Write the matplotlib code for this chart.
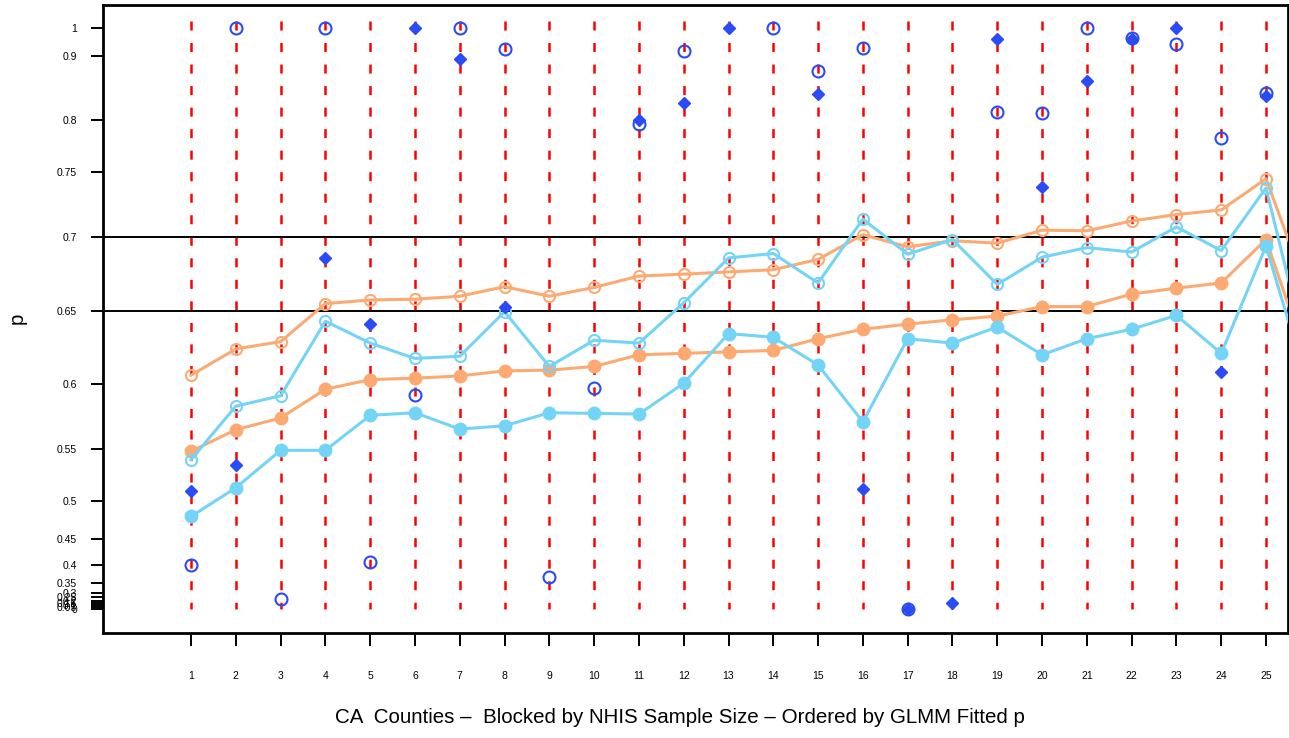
import numpy as np
import matplotlib
matplotlib.use("Agg")
import matplotlib.pyplot as plt

plt.rcParams['font.family'] = ['Liberation Sans', 'DejaVu Sans']
plt.rcParams['lines.scale_dashes'] = False

# counties 1..25, the 26th point lies just past the right edge of the frame
county = list(range(1, 27))

orange_open = [0.606, 0.624, 0.629, 0.655, 0.6575, 0.658, 0.660, 0.6665, 0.660, 0.666,
               0.6737, 0.675, 0.6765, 0.678, 0.685, 0.702, 0.6935, 0.6977, 0.696, 0.7055,
               0.705, 0.7125, 0.7175, 0.721, 0.745, 0.657]
orange_fill = [0.548, 0.565, 0.574, 0.596, 0.603, 0.604, 0.6055, 0.609, 0.6095, 0.612,
               0.620, 0.621, 0.622, 0.623, 0.631, 0.6375, 0.641, 0.644, 0.6465, 0.653,
               0.653, 0.6615, 0.6655, 0.669, 0.6985, 0.609]
cyan_open = [0.540, 0.583, 0.591, 0.643, 0.628, 0.6175, 0.619, 0.6495, 0.612, 0.630,
             0.628, 0.6555, 0.686, 0.689, 0.669, 0.714, 0.6885, 0.6985, 0.668, 0.6865,
             0.693, 0.690, 0.708, 0.691, 0.738, 0.609]
cyan_fill = [0.480, 0.513, 0.549, 0.549, 0.576, 0.578, 0.5655, 0.568, 0.578, 0.5775,
             0.577, 0.6005, 0.6345, 0.632, 0.613, 0.571, 0.631, 0.628, 0.639, 0.620,
             0.631, 0.6375, 0.647, 0.621, 0.694, 0.591]

nan = np.nan
blue_open = [0.40, 1.0, 0.224, 1.0, 0.406, 0.5915, 1.0, 0.926, 0.367, 0.597,
             0.796, 0.919, nan, 1.0, 0.877, 0.9285, 0.0, nan, 0.8125, 0.810,
             1.0, 0.964, 0.944, 0.783, 0.8415]
blue_diam = [0.510, 0.535, nan, 0.686, 0.641, 1.0, 0.895, 0.653, nan, nan,
             0.800, 0.827, 1.0, nan, 0.8405, 0.512, 0.0, 0.154, 0.96, 0.739,
             0.861, 0.962, 1.0, 0.608, 0.8375]

yticks = [0, 0.05, 0.1, 0.15, 0.2, 0.25, 0.3, 0.35, 0.4, 0.45, 0.5, 0.55, 0.6,
          0.65, 0.7, 0.75, 0.8, 0.9, 1]
ylabels = ['0', '0.05', '0.1', '0.15', '0.2', '0.25', '0.3', '0.35', '0.4', '0.45',
           '0.5', '0.55', '0.6', '0.65', '0.7', '0.75', '0.8', '0.9', '1']

# calibration of the stretched p axis (p value -> relative position)
scale_p = np.array([-1, 0, 0.05, 0.1, 0.15, 0.2, 0.25, 0.3, 0.35, 0.4, 0.45, 0.5,
                    0.55, 0.6, 0.65, 0.7, 0.75, 0.8, 0.9, 1.0, 2.0])
scale_pos = -np.array([649.5, 609.5, 607.5, 605.5, 603.5, 601, 597.5, 593, 582.7,
                       565.3, 539.3, 501.3, 449.3, 384, 311, 237.3, 172.3, 119.7,
                       56.3, 28.3, -251.7])


def fwd(p):
    return np.interp(p, scale_p, scale_pos)


def inv(v):
    return np.interp(v, scale_pos, scale_p)


fig = plt.figure(figsize=(12.89, 7.38), dpi=100)
ax = fig.add_axes([103 / 1289, 1 - 633 / 738, 1184.5 / 1289, 628 / 738])
ax.set_yscale('function', functions=(fwd, inv))

red = '#FF0000'
orange = '#FCAA72'
cyan = '#74D4F6'
blue = '#2A4BF5'

x25 = county[:25]
ax.vlines(x25, 1.027, 0, colors=red, linewidth=1.8, linestyles=(0, (6.5, 9)), zorder=1)
ax.axhline(0.65, color='black', linewidth=1.4, zorder=2)
ax.axhline(0.7, color='black', linewidth=1.4, zorder=2)

ax.plot(county, orange_open, color=orange, lw=2.2, marker='o', ms=8, mfc='none',
        mew=1.5, zorder=3)
ax.plot(county, orange_fill, color=orange, lw=2.2, marker='o', ms=9, zorder=3)
ax.plot(county, cyan_open, color=cyan, lw=2.2, marker='o', ms=8, mfc='none',
        mew=1.5, zorder=3)
ax.plot(county, cyan_fill, color=cyan, lw=2.2, marker='o', ms=9, zorder=3)

ax.plot(x25, blue_open, ls='none', marker='o', ms=8.6, mfc='none', mec=blue,
        mew=1.5, zorder=4)
ax.plot(x25, blue_diam, ls='none', marker='D', ms=6.3, color=blue, zorder=4)

ax.set_xlim(-0.965, 25.48)
ax.set_ylim(-0.5875, 1.0832)

ax.set_xticks(x25)
ax.set_xticklabels([str(i) for i in x25], fontsize=7.5)
ax.set_yticks(yticks)
ax.set_yticklabels(ylabels, fontsize=7.5)
ax.yaxis.set_minor_locator(matplotlib.ticker.NullLocator())
ax.tick_params(axis='y', length=8.6, width=1.4, pad=10)
ax.tick_params(axis='x', length=9.4, width=1.4, pad=18)
for s in ax.spines.values():
    s.set_linewidth(2)

ax.set_xlabel('CA  Counties \u2013  Blocked by NHIS Sample Size \u2013 Ordered by GLMM Fitted p',
              fontsize=14.8, va='center')
ax.xaxis.set_label_coords(0.487, -0.135)
ax.set_ylabel('p', fontsize=14.8, va='center')
ax.yaxis.set_label_coords(-0.0726, 0.5016)

fig.savefig('out.png', dpi=100)
